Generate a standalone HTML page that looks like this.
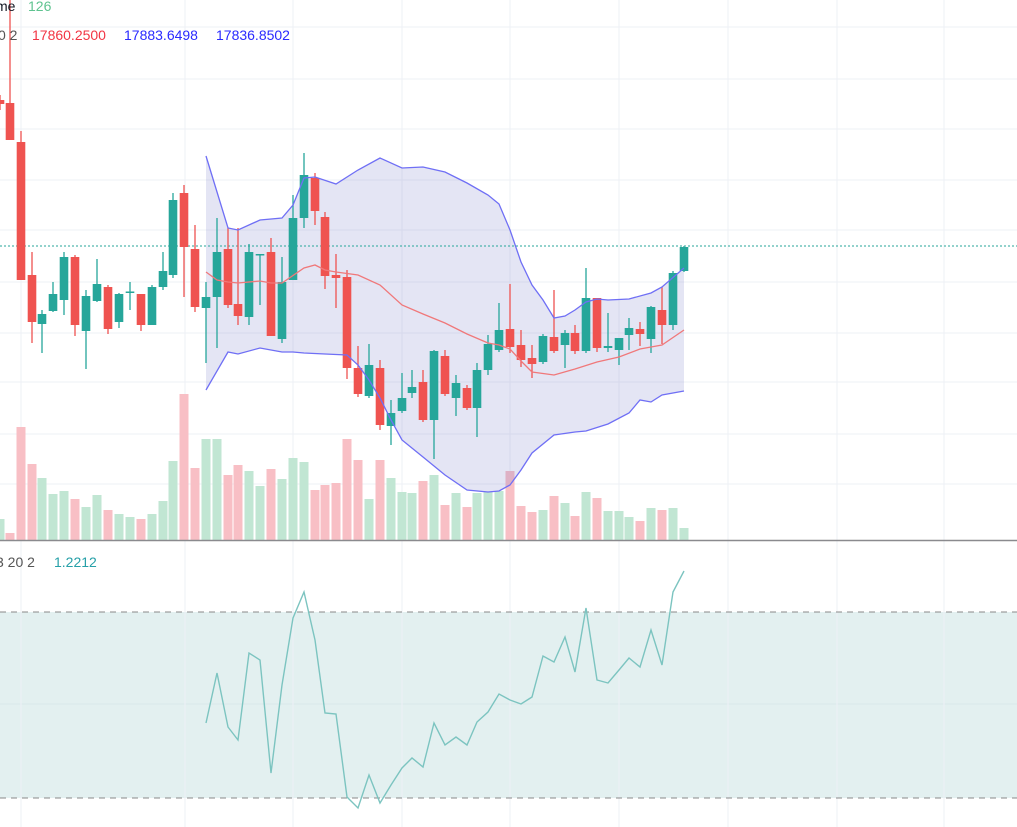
<!DOCTYPE html>
<html><head><meta charset="utf-8"><style>
html,body{margin:0;padding:0;background:#fff;width:1017px;height:827px;overflow:hidden}
svg{display:block;font-family:"Liberation Sans",sans-serif}
</style></head><body>
<svg id="s" width="1017" height="827" viewBox="0 0 1017 827" xmlns="http://www.w3.org/2000/svg"></svg>
<script>
var s=document.getElementById('s'),h='';
function L(a){return a.map(function(p){return p[0]+','+p[1]}).join(' ')}
// grid
[27,79,129,180,230,282,333,382,434,484].forEach(function(y){h+='<line x1="0" x2="1017" y1="'+y+'" y2="'+y+'" stroke="#eef0f6" stroke-width="1"/>'});
h+='<rect x="0" y="612" width="1017" height="186" fill="#e3f0f0"/>';
h+='<line x1="0" x2="1017" y1="704" y2="704" stroke="#d8e8ea"/>';
[21,185,293,402,510,619,728,837,944].forEach(function(x){h+='<line x1="'+x+'" x2="'+x+'" y1="0" y2="827" stroke="#eef0f6"/>'});
// volumes
var V=[[0,519,1],[10,533,0],[21,427,0],[32,464,0],[42,478,1],[53,494,1],[64,491,1],[75,499,0],[86,507,1],[97,495,1],[108,510,0],[119,514,1],[130,517,1],[141,519,0],[152,514,1],[163,501,1],[173,461,1],[184,394,0],[195,468,0],[206,439,1],[217,439,1],[228,475,0],[238,465,0],[249,471,1],[260,486,1],[271,469,0],[282,479,1],[293,458,1],[304,462,1],[315,490,0],[325,485,0],[336,483,0],[347,439,0],[358,460,0],[369,499,1],[380,460,0],[391,478,1],[402,492,1],[412,493,1],[423,481,0],[434,475,1],[445,505,0],[456,493,1],[467,507,0],[477,493,1],[488,492,1],[499,491,1],[510,471,0],[521,506,0],[532,512,0],[543,510,1],[554,496,0],[565,503,1],[575,516,0],[586,492,1],[597,498,0],[608,511,1],[619,511,1],[629,517,1],[640,521,0],[651,508,1],[662,510,0],[673,508,1],[684,528,1]];
V.forEach(function(v){h+='<rect x="'+(v[0]-4.5)+'" y="'+v[1]+'" width="9" height="'+(540-v[1])+'" fill="'+(v[2]?'#c1e6d3':'#f8bfc5')+'"/>'});
// BB
var U=[[206,156],[228,228],[238,230],[260,220],[282,218],[293,205],[304,178],[315,177],[336,184],[358,170],[380,158],[402,168],[423,167],[445,172],[467,183],[488,195],[499,204],[510,230],[521,262],[532,285],[543,300],[554,318],[565,316],[575,310],[586,302],[597,299],[608,300],[629,299],[651,293],[662,287],[684,268]];
var D=[[206,390],[228,352],[238,354],[260,348],[282,352],[293,352],[304,353],[325,354],[347,355],[358,365],[369,380],[380,398],[391,420],[402,440],[423,457],[445,475],[467,490],[488,492],[499,491],[510,485],[521,470],[532,453],[554,435],[575,432],[586,431],[608,424],[629,413],[640,400],[651,402],[662,395],[684,391]];
var M=[[206,272],[217,280],[228,282],[238,283],[260,281],[271,283],[282,283],[304,268],[315,265],[325,270],[336,272],[358,275],[380,285],[402,305],[423,314],[445,323],[467,334],[488,343],[499,345],[510,349],[521,361],[532,372],[554,375],[575,369],[597,362],[619,357],[640,349],[662,345],[684,330]];
h+='<polygon points="'+L(U)+' '+L(D.slice().reverse())+'" fill="rgba(120,123,200,0.2)"/>';
h+='<line x1="0" x2="1017" y1="246" y2="246" stroke="#26a69a" stroke-dasharray="2,2"/>';
// candles [x,o,c,hi,lo]
var C=[[0,100,104,95,110],[10,103,140,0,140],[21,142,280,131,280],[32,275,322,252,343],[42,324,314,310,353],[53,311,294,282,312],[64,300,257,252,315],[75,257,325,255,336],[86,331,296,290,369],[97,301,284,259,302],[108,287,329,285,334],[119,322,294,293,328],[130,292.5,291.5,282,310],[141,294,325,294,331],[152,325,287,285,325],[163,287,271,252,290],[173,275,200,193,278],[184,193,247,185,297],[195,249,307,225,312],[206,308,297,282,363],[217,297,252,218,348],[228,249,305,228,308],[238,304,316,228,325],[249,317,252,244,325],[260,255,254,254,305],[271,252,336,238,336],[282,339,282,257,343],[293,280,218,195,280],[304,218,175,153,228],[315,178,211,173,225],[325,217,276,212,289],[336,275,278,254,308],[347,277,368,270,379],[358,368,394,346,397],[369,396,365,344,398],[380,368,425,360,430],[391,426,413,400,445],[402,411,398,373,413],[412,393,387,370,398],[423,382,420,370,422],[434,420,351,350,459],[445,356,394,350,396],[456,398,383,375,416],[467,388,408,385,410],[477,408,370,363,437],[488,370,344,335,375],[499,350,330,303,352],[510,329,347,284,353],[521,345,360,330,367],[532,358,364,345,378],[543,362,336,334,364],[554,337,351,290,353],[565,345,333,330,368],[575,333,351,325,354],[586,351,298,268,353],[597,298,348,298,352],[608,348,346,313,352],[619,350,338,338,365],[629,335,328,318,350],[640,329,334,322,346],[651,339,307,306,353],[662,310,325,287,344],[673,325,273,271,330],[684,271,247,246,272]];
C.forEach(function(c){var g=c[2]<c[1],col=g?'#26a69a':'#ef5350',t=Math.min(c[1],c[2]),b=Math.max(Math.abs(c[2]-c[1]),1.5);
h+='<line x1="'+c[0]+'" x2="'+c[0]+'" y1="'+c[3]+'" y2="'+c[4]+'" stroke="'+col+'" stroke-width="1.3"/>';
h+='<rect x="'+(c[0]-4.3)+'" y="'+t+'" width="8.6" height="'+b+'" fill="'+col+'"/>'});
h+='<polyline points="'+L(M)+'" fill="none" stroke="#f0787a" stroke-width="1.3"/>';
h+='<polyline points="'+L(U)+'" fill="none" stroke="#6f6ff5" stroke-width="1.3"/>';
h+='<polyline points="'+L(D)+'" fill="none" stroke="#6f6ff5" stroke-width="1.3"/>';
// separator
h+='<line x1="0" x2="1017" y1="540.5" y2="540.5" stroke="#8a8a8e" stroke-width="1.5"/>';
// lower pane
h+='<line x1="0" x2="1017" y1="612" y2="612" stroke="#888" stroke-dasharray="6,5"/>';
h+='<line x1="0" x2="1017" y1="798" y2="798" stroke="#888" stroke-dasharray="6,5"/>';
var P=[[206,723],[217,673],[228,727],[238,740],[249,653],[260,660],[271,773],[282,685],[293,618],[304,592],[315,640],[325,713],[336,714],[347,797],[358,808],[369,775],[380,803],[391,785],[402,768],[412,758],[423,767],[434,723],[445,745],[456,737],[467,745],[477,722],[488,712],[499,694],[510,700],[521,704],[532,697],[543,656],[554,662],[565,637],[575,672],[586,608],[597,680],[608,683],[619,670],[629,658],[640,667],[651,630],[662,665],[673,592],[684,571]];
h+='<polyline points="'+L(P)+'" fill="none" stroke="#7cc4c0" stroke-width="1.4"/>';
// text
h+='<text x="-4" y="11" font-size="14" fill="#131722">me</text><text x="28" y="11" font-size="14" fill="#5fc390">126</text>';
h+='<text x="-2" y="40" font-size="14" fill="#555">0 2</text>';
h+='<text x="32" y="40" font-size="14" fill="#f23645">17860.2500</text>';
h+='<text x="124" y="40" font-size="14" fill="#2a2aff">17883.6498</text>';
h+='<text x="216" y="40" font-size="14" fill="#2a2aff">17836.8502</text>';
h+='<text x="-4" y="567" font-size="14" fill="#555">3 20 2</text>';
h+='<text x="54" y="567" font-size="14" fill="#26a0a8">1.2212</text>';
s.innerHTML=h;
</script>
</body></html>
